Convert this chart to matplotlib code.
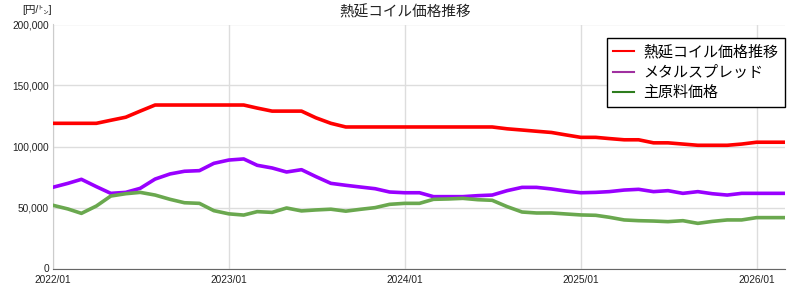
import numpy as np
import pandas as pd
import matplotlib
matplotlib.use("Agg")
import matplotlib.pyplot as plt
from matplotlib.lines import Line2D
from matplotlib.ticker import FuncFormatter

plt.rcParams["font.family"] = ["Liberation Sans", "Noto Sans CJK JP", "DejaVu Sans"]

# ── data (monthly, 2022/01 – 2026/03) ─────────────────────────────────────────
months = pd.date_range("2022-01-01", "2026-03-01", freq="MS")

hot_coil = [119000, 119000, 119000, 119000, 121500, 124000, 129000, 134000,
            134000, 134000, 134000, 134000, 134000, 134000, 131500, 129000,
            129000, 129000, 123500, 119000, 116000, 116000, 116000, 116000,
            116000, 116000, 116000, 116000, 116000, 116000, 116000, 114500,
            113500, 112500, 111500, 109500, 107500, 107500, 106500, 105500,
            105500, 103000, 103000, 102000, 101000, 101000, 101000, 102000,
            103500, 103500, 103500]

metal_spread = [66600, 69800, 73100, 67100, 61600, 62400, 65700, 73300,
                77500, 79700, 80200, 86200, 88900, 89800, 84600, 82400,
                79100, 81000, 75300, 69800, 68200, 66800, 65400, 62700,
                62100, 62100, 58900, 58900, 58900, 59700, 60200, 63800,
                66500, 66500, 65200, 63500, 62100, 62400, 63000, 64300,
                64900, 63000, 63800, 61600, 63000, 61300, 60200, 61600,
                61600, 61600, 61600]

raw_material = [51800, 48800, 45200, 51200, 59400, 61300, 62400, 60200,
                56700, 53900, 53400, 47400, 44800, 43800, 46600, 46000,
                49600, 47200, 48000, 48600, 47000, 48500, 49900, 52600,
                53400, 53400, 56700, 57000, 57500, 56400, 55900, 50700,
                46300, 45500, 45500, 44700, 43900, 43600, 42000, 39800,
                39200, 38900, 38400, 39200, 37000, 38600, 39800, 39800,
                41700, 41700, 41700]

series_labels = ["熱延コイル価格推移", "メタルスプレッド", "主原料価格"]
line_colors = ["#ff0000", "#9900ff", "#6aa84f"]
legend_colors = ["#ff0000", "#a030a0", "#2e7d1e"]

year_ticks = pd.date_range("2022-01-01", "2026-01-01", freq="YS")
y_ticks = [0, 50000, 100000, 150000, 200000]

# ── figure ────────────────────────────────────────────────────────────────────
fig = plt.figure(figsize=(8.0, 2.98), dpi=100)
ax = fig.add_axes([53 / 800, 1 - 268.5 / 298, (785 - 53) / 800, (268.5 - 24.5) / 298])

for values, color in zip([hot_coil, metal_spread, raw_material], line_colors):
    ax.plot(months, values, color=color, linewidth=2.6, solid_joinstyle="round",
            zorder=3)

ax.set_xlim(months[0], months[-1])
ax.set_ylim(0, 200000)
ax.set_xticks(year_ticks)
ax.set_xticklabels([d.strftime("%Y/%m") for d in year_ticks])
ax.set_yticks(y_ticks)
ax.yaxis.set_major_formatter(FuncFormatter(lambda v, _: f"{int(v):,}"))

ax.grid(True, color="#dddddd", linewidth=1.0, zorder=0)
ax.tick_params(length=0, labelsize=7.3, colors="#222222")
ax.tick_params(axis="x", pad=5)
ax.tick_params(axis="y", pad=3)
for side in ["top", "right"]:
    ax.spines[side].set_visible(False)
ax.spines["left"].set_color("#cccccc")
ax.spines["bottom"].set_color("#666666")

handles = [Line2D([], [], color=c, linewidth=1.5) for c in legend_colors]
leg = ax.legend(handles, series_labels, loc="upper right",
                bbox_to_anchor=(1.0, 0.945), borderaxespad=0,
                fontsize=10.8, fancybox=False, framealpha=1,
                edgecolor="black", handlelength=1.4, handletextpad=0.6,
                labelspacing=0.42, borderpad=0.45)
leg.get_frame().set_linewidth(1.0)

fig.text(405 / 800, 1 - 12 / 298, "熱延コイル価格推移", ha="center", va="center",
         fontsize=10.5, color="#222222")
fig.text(37 / 800, 1 - 10 / 298, "[円/㌧]", ha="center", va="center",
         fontsize=7.5, color="#222222")

fig.savefig("out.png", dpi=100)
